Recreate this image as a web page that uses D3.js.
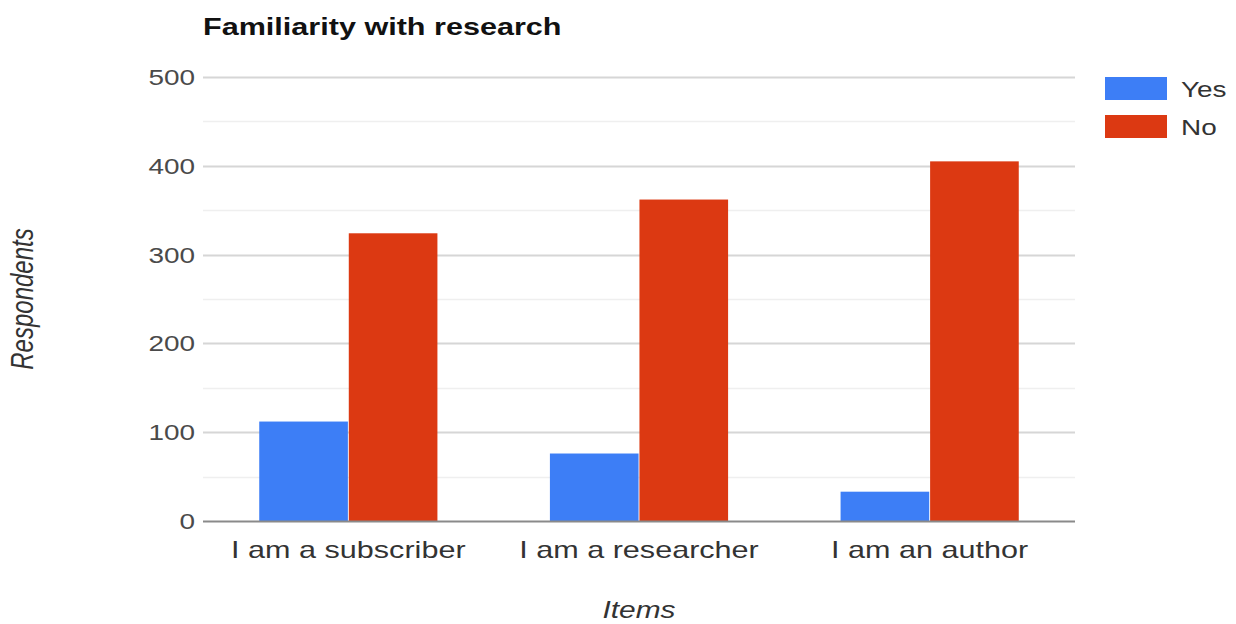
<!DOCTYPE html>
<html>
<head>
<meta charset="utf-8">
<script src="https://cdn.jsdelivr.net/npm/d3@7"></script>
<style>
  html, body { margin: 0; padding: 0; background: #fff; }
  svg { display: block; }
  text { font-family: "Liberation Sans", Arial, sans-serif; }
</style>
</head>
<body>
<svg id="chart" width="1236" height="624"></svg>
<script>
const categories = ["I am a subscriber", "I am a researcher", "I am an author"];
const seriesNames = ["Yes", "No"];
const yesValues = [112, 76, 33];
const noValues = [324, 362, 405];
const yTicks = [0, 100, 200, 300, 400, 500];
const yMinorTicks = [50, 150, 250, 350, 450];
const colors = ["#3d7ef6", "#dc3912"];

(function () {
const svg = d3.select("#chart");
const plotLeft = 203, plotRight = 1075, plotTop = 77, plotBottom = 521;
const sx = 1.27; // horizontal stretch of the original picture's text

const x0 = d3.scaleBand().domain(categories).range([plotLeft, plotRight])
  .paddingInner(0.387).paddingOuter(0.1935);
const x1 = d3.scaleBand().domain(seriesNames).range([0, x0.bandwidth()]).paddingInner(0.01);
const y = d3.scaleLinear().domain([0, 500]).range([plotBottom, plotTop]);
const color = d3.scaleOrdinal().domain(seriesNames).range(colors);

function stretchedText(g, x, yy, str, anchor, s) {
  return g.append("text")
    .attr("transform", `translate(${x},${yy}) scale(${s || sx},1)`)
    .attr("text-anchor", anchor || "start")
    .text(str);
}

// minor gridlines
svg.append("g").selectAll("line").data(yMinorTicks).join("line")
  .attr("x1", plotLeft).attr("x2", plotRight)
  .attr("y1", d => Math.round(y(d)) + 0.5).attr("y2", d => Math.round(y(d)) + 0.5)
  .attr("stroke", "#efefef").attr("stroke-width", 1.5);

// major gridlines
svg.append("g").selectAll("line").data(yTicks.filter(d => d > 0)).join("line")
  .attr("x1", plotLeft).attr("x2", plotRight)
  .attr("y1", d => Math.round(y(d)) + 0.5).attr("y2", d => Math.round(y(d)) + 0.5)
  .attr("stroke", "#d6d6d6").attr("stroke-width", 2);

// y tick labels
const yAxisG = svg.append("g");
yTicks.forEach(t => {
  stretchedText(yAxisG, 195, y(t) + 8, String(t), "end")
    .attr("font-size", 22).attr("fill", "#4a4a4a");
});

// bars
const data = categories.map((c, i) => ({ cat: c, vals: [
  { key: "Yes", value: yesValues[i] }, { key: "No", value: noValues[i] }] }));

const groups = svg.append("g").selectAll("g").data(data).join("g")
  .attr("transform", d => `translate(${x0(d.cat)},0)`);
groups.selectAll("rect").data(d => d.vals).join("rect")
  .attr("x", d => x1(d.key))
  .attr("width", x1.bandwidth())
  .attr("y", d => y(d.value))
  .attr("height", d => y(0) - y(d.value))
  .attr("fill", d => color(d.key));

// baseline
svg.append("line")
  .attr("x1", plotLeft).attr("x2", plotRight)
  .attr("y1", y(0) + 0.5).attr("y2", y(0) + 0.5)
  .attr("stroke", "#8a8a8a").attr("stroke-width", 2);

// x labels
const xAxisG = svg.append("g");
categories.forEach(c => {
  stretchedText(xAxisG, x0(c) + x0.bandwidth() / 2, 558, c, "middle", 1.33)
    .attr("font-size", 23).attr("fill", "#333");
});

// title
stretchedText(svg, 203, 35, "Familiarity with research", "start", 1.33)
  .attr("font-size", 23).attr("font-weight", "bold").attr("fill", "#111");

// axis titles
stretchedText(svg, (plotLeft + plotRight) / 2, 618, "Items", "middle", 1.3)
  .attr("font-size", 23).attr("font-style", "italic").attr("fill", "#333");

svg.append("text")
  .attr("transform", `translate(33,${(plotTop + plotBottom) / 2}) rotate(-90) scale(1,1.3)`)
  .attr("text-anchor", "middle")
  .attr("font-size", 24).attr("font-style", "italic").attr("fill", "#333")
  .text("Respondents");

// legend
const legend = svg.append("g");
seriesNames.forEach((s, i) => {
  legend.append("rect")
    .attr("x", 1105).attr("y", 77 + i * 38)
    .attr("width", 62).attr("height", 23)
    .attr("fill", color(s));
  stretchedText(legend, 1181, 97 + i * 38, s, "start")
    .attr("font-size", 22).attr("fill", "#333");
});
})();
</script>
</body>
</html>
